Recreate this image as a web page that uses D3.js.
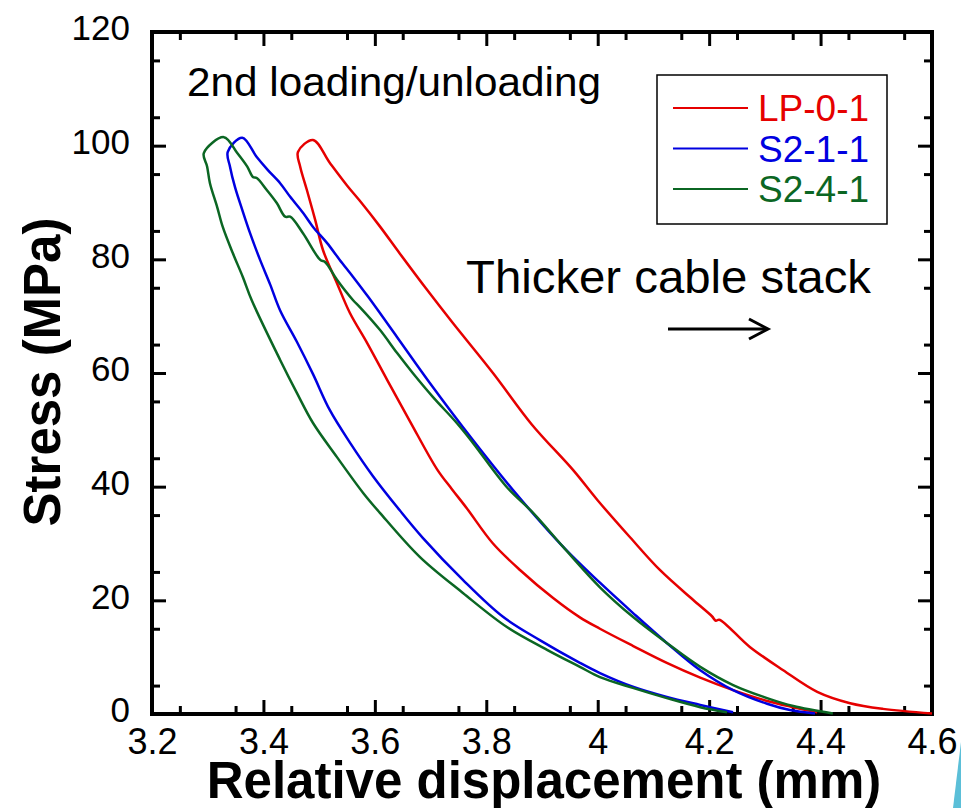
<!DOCTYPE html>
<html>
<head>
<meta charset="utf-8">
<script src="https://cdn.jsdelivr.net/npm/d3@7"></script>
<style>
  body { margin: 0; background: #fff; }
  svg text { font-family: "Liberation Sans", Arial, sans-serif; }
</style>
</head>
<body>
<div id="chart-area"></div>
<script>
// stress vs relative displacement, 2nd loading/unloading loops
var seriesNames = ["LP-0-1", "S2-1-1", "S2-4-1"];
var seriesColors = ["#e60000", "#0000e0", "#0b6623"];

// LP-0-1 (lower branch up to peak, then upper branch back down)
var lpX = [4.394, 4.351, 4.304, 4.243, 4.184, 4.124, 4.063, 4.004, 3.968, 3.920, 3.861, 3.812, 3.765, 3.738, 3.712, 3.663, 3.622, 3.586, 3.555, 3.532, 3.507, 3.493, 3.478, 3.466, 3.462,
           3.489, 3.519, 3.550, 3.573, 3.609, 3.645, 3.694, 3.740, 3.812, 3.882, 3.956, 3.999, 4.058, 4.112, 4.171, 4.205, 4.212, 4.218, 4.273, 4.333, 4.394, 4.453, 4.512, 4.600];
var lpY = [0.3, 1.2, 2.3, 4.2, 6.4, 9.0, 12.0, 15.0, 17.0, 20.4, 25.3, 30.0, 36.2, 39.6, 43.0, 51.5, 58.8, 65.3, 70.6, 75.8, 81.6, 86.9, 92.2, 96.3, 98.9,
           101.0, 97.0, 93.0, 90.3, 85.8, 81.0, 74.6, 68.8, 60.0, 50.9, 42.9, 37.7, 31.1, 25.3, 20.1, 17.2, 16.4, 16.6, 11.8, 7.7, 3.9, 1.9, 0.9, 0.1];

// S2-1-1
var s21X = [4.243, 4.184, 4.124, 4.063, 4.004, 3.968, 3.896, 3.830, 3.758, 3.686, 3.645, 3.597, 3.555, 3.519, 3.489, 3.460, 3.430, 3.412, 3.394, 3.376, 3.362, 3.349, 3.340, 3.336,
            3.362, 3.388, 3.408, 3.430, 3.448, 3.471, 3.489, 3.514, 3.537, 3.561, 3.588, 3.640, 3.699, 3.776, 3.848, 3.938, 4.004, 4.063, 4.124, 4.184, 4.243, 4.304, 4.345, 4.390];
var s21Y = [0.3, 1.6, 3.0, 4.8, 7.2, 9.0, 13.0, 17.1, 23.6, 31.0, 35.8, 41.8, 47.8, 53.5, 59.8, 65.5, 71.0, 75.6, 79.9, 84.6, 88.7, 92.7, 96.3, 98.9,
            101.4, 98.0, 95.7, 93.4, 91.0, 88.2, 85.7, 82.9, 79.9, 76.9, 73.4, 66.3, 58.2, 48.2, 39.4, 29.4, 23.1, 17.8, 12.5, 7.7, 4.2, 1.8, 0.7, 0.1];

// S2-4-1
var s24X = [4.232, 4.184, 4.124, 4.063, 4.004, 3.968, 3.909, 3.837, 3.758, 3.681, 3.609, 3.579, 3.532, 3.489, 3.460, 3.430, 3.379, 3.363, 3.345, 3.327, 3.317, 3.304, 3.299, 3.293,
            3.329, 3.353, 3.371, 3.381, 3.388, 3.406, 3.424, 3.439, 3.448, 3.471, 3.502, 3.511, 3.532, 3.561, 3.573, 3.609, 3.640, 3.668, 3.704, 3.747, 3.776, 3.837, 3.884, 3.938,
            4.004, 4.063, 4.124, 4.184, 4.243, 4.304, 4.351, 4.422];
var s24Y = [0.3, 1.2, 2.8, 4.6, 6.5, 8.3, 11.3, 15.3, 21.3, 27.6, 35.4, 38.9, 45.2, 51.2, 56.5, 62.3, 72.8, 76.9, 81.1, 85.7, 89.2, 93.4, 96.3, 98.7,
            101.5, 98.7, 96.3, 94.5, 94.3, 92.2, 89.9, 87.5, 87.5, 84.6, 79.9, 79.5, 76.4, 72.8, 71.6, 67.6, 63.5, 60.0, 55.8, 51.2, 47.7, 39.9, 35.4, 29.4,
            22.3, 17.1, 12.5, 8.3, 5.1, 2.8, 1.4, 0.1];

var xTicks = [3.2, 3.4, 3.6, 3.8, 4.0, 4.2, 4.4, 4.6];
var xTickLabels = ["3.2", "3.4", "3.6", "3.8", "4", "4.2", "4.4", "4.6"];
var yTicks = [0, 20, 40, 60, 80, 100, 120];
var yTickLabels = ["0", "20", "40", "60", "80", "100", "120"];

var margin = { left: 152, right: 29, top: 32, bottom: 94 };
var width = 961 - margin.left - margin.right;
var height = 808 - margin.top - margin.bottom;

var svg = d3.select("#chart-area")
  .append("svg")
    .attr("width", 961)
    .attr("height", 808);

// little slide decoration in the corner
svg.append("polygon")
  .attr("points", "961,742 953,808 961,808")
  .attr("fill", "#5bbfd8");

var g = svg.append("g")
  .attr("transform", "translate(" + margin.left + "," + margin.top + ")");

var x = d3.scaleLinear().domain([3.2, 4.6]).range([0, width]);
var y = d3.scaleLinear().domain([0, 120]).range([height, 0]);

var xMinor = d3.range(3.25, 4.6, 0.1);
var yMinor = d3.range(5, 120, 10);

function styleAxis(sel, w) {
  sel.select(".domain").remove();
  sel.selectAll("line").attr("stroke", "#000").attr("stroke-width", w);
}

// major + minor ticks on all four sides, pointing inward
var bottomMaj = g.append("g").attr("transform", "translate(0," + height + ")")
  .call(d3.axisBottom(x).tickValues(xTicks).tickSize(-14).tickSizeOuter(0)
    .tickPadding(14).tickFormat(function(d, i) { return xTickLabels[i]; }));
styleAxis(bottomMaj, 3);
bottomMaj.selectAll("text")
  .attr("font-size", "36px")
  .attr("fill", "#000");

var bottomMin = g.append("g").attr("transform", "translate(0," + height + ")")
  .call(d3.axisBottom(x).tickValues(xMinor).tickSize(-8).tickSizeOuter(0).tickFormat(""));
styleAxis(bottomMin, 3);

var topMaj = g.append("g")
  .call(d3.axisTop(x).tickValues(xTicks).tickSize(-14).tickSizeOuter(0).tickFormat(""));
styleAxis(topMaj, 3);
var topMin = g.append("g")
  .call(d3.axisTop(x).tickValues(xMinor).tickSize(-8).tickSizeOuter(0).tickFormat(""));
styleAxis(topMin, 3);

var leftMaj = g.append("g")
  .call(d3.axisLeft(y).tickValues(yTicks).tickSize(-14).tickSizeOuter(0)
    .tickPadding(22).tickFormat(function(d, i) { return yTickLabels[i]; }));
styleAxis(leftMaj, 3);
leftMaj.selectAll("text")
  .attr("font-size", "35px")
  .attr("dy", "0.22em")
  .attr("fill", "#000");

var leftMin = g.append("g")
  .call(d3.axisLeft(y).tickValues(yMinor).tickSize(-8).tickSizeOuter(0).tickFormat(""));
styleAxis(leftMin, 3);

var rightMaj = g.append("g").attr("transform", "translate(" + width + ",0)")
  .call(d3.axisRight(y).tickValues(yTicks).tickSize(-14).tickSizeOuter(0).tickFormat(""));
styleAxis(rightMaj, 3);
var rightMin = g.append("g").attr("transform", "translate(" + width + ",0)")
  .call(d3.axisRight(y).tickValues(yMinor).tickSize(-8).tickSizeOuter(0).tickFormat(""));
styleAxis(rightMin, 3);

// frame
g.append("rect")
  .attr("x", 0).attr("y", 0)
  .attr("width", width).attr("height", height)
  .attr("fill", "none")
  .attr("stroke", "#000")
  .attr("stroke-width", 4);

// curves
var series = [
  { xs: lpX, ys: lpY },
  { xs: s21X, ys: s21Y },
  { xs: s24X, ys: s24Y }
];
var line = d3.line()
  .curve(d3.curveCatmullRom.alpha(0.5))
  .x(function(d) { return x(d[0]); })
  .y(function(d) { return y(d[1]); });

g.selectAll(".curve")
  .data(series)
  .enter().append("path")
    .attr("class", "curve")
    .attr("d", function(s) { return line(d3.zip(s.xs, s.ys)); })
    .attr("fill", "none")
    .attr("stroke", function(s, i) { return seriesColors[i]; })
    .attr("stroke-width", 2.5)
    .attr("stroke-linejoin", "round");

// legend
var legend = svg.append("g").attr("transform", "translate(657,75)");
legend.append("rect")
  .attr("width", 230).attr("height", 149)
  .attr("fill", "#fff")
  .attr("stroke", "#000")
  .attr("stroke-width", 1.5);
var rows = legend.selectAll(".row")
  .data(seriesNames)
  .enter().append("g")
    .attr("class", "row")
    .attr("transform", function(d, i) { return "translate(0," + (33 + i * 40.5) + ")"; });
rows.append("line")
  .attr("x1", 16).attr("x2", 91)
  .attr("stroke", function(d, i) { return seriesColors[i]; })
  .attr("stroke-width", 2);
rows.append("text")
  .attr("x", 101)
  .attr("y", 13)
  .attr("font-size", "37px")
  .attr("fill", function(d, i) { return seriesColors[i]; })
  .text(function(d) { return d; });

// annotations
svg.append("text")
  .attr("x", 187).attr("y", 96)
  .attr("font-size", "41px")
  .attr("textLength", 414)
  .attr("lengthAdjust", "spacingAndGlyphs")
  .text("2nd loading/unloading");

svg.append("text")
  .attr("x", 466).attr("y", 293)
  .attr("font-size", "47px")
  .attr("textLength", 405)
  .attr("lengthAdjust", "spacingAndGlyphs")
  .text("Thicker cable stack");

svg.append("line")
  .attr("x1", 668).attr("x2", 767)
  .attr("y1", 329).attr("y2", 329)
  .attr("stroke", "#000").attr("stroke-width", 3);
svg.append("polyline")
  .attr("points", "749,319 768,329 749,339")
  .attr("fill", "none")
  .attr("stroke", "#000").attr("stroke-width", 3);

// axis titles
svg.append("text")
  .attr("x", 544).attr("y", 798)
  .attr("text-anchor", "middle")
  .attr("font-size", "51px")
  .attr("font-weight", "bold")
  .text("Relative displacement (mm)");

svg.append("text")
  .attr("transform", "translate(60,372) rotate(-90)")
  .attr("text-anchor", "middle")
  .attr("font-size", "51px")
  .attr("font-weight", "bold")
  .text("Stress (MPa)");
</script>
</body>
</html>
